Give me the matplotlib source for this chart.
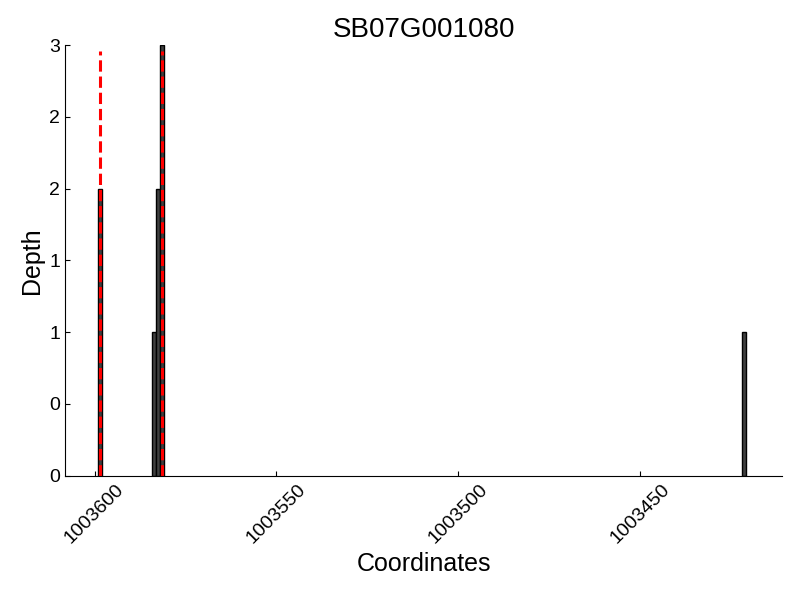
import numpy as np
import matplotlib
matplotlib.use("Agg")
import matplotlib.pyplot as plt
from matplotlib.ticker import FormatStrFormatter

plt.rcParams['font.family'] = ['Liberation Sans', 'DejaVu Sans']

gene = "SB07G001080"
# read depth per coordinate
positions = [1003598.6, 1003583.6, 1003582.5, 1003581.4, 1003421.4]
depths = [2, 1, 2, 3, 1]
# feature boundaries (red dashed)
bounds = [1003598.5, 1003581.5]
xlim = (1003608.2, 1003410.9)
xticks = [1003600, 1003550, 1003500, 1003450]

fig = plt.figure(figsize=(8, 6), dpi=100)
ax = fig.add_axes([0.081, 0.207, 0.897, 0.718])

ax.bar(positions, depths, width=1.0, color="#404040", edgecolor="black", linewidth=1)
ax.vlines(bounds, 0, 2.96, colors="red", linestyles="dashed", linewidth=2.2)

ax.set_xlim(*xlim)
ax.set_ylim(0, 3)
ax.set_xticks(xticks)
ax.set_yticks(np.arange(0, 3.01, 0.5))
ax.yaxis.set_major_formatter(FormatStrFormatter('%d'))
ax.xaxis.set_major_formatter(FormatStrFormatter('%d'))
ax.tick_params(direction="in", labelsize=14)
plt.setp(ax.get_xticklabels(), rotation=45)

for s in ["top", "right"]:
    ax.spines[s].set_visible(False)

ax.set_xlabel("Coordinates", fontsize=18)
ax.set_ylabel("Depth", fontsize=18)
ax.set_title(gene, fontsize=20)

plt.savefig("out.png", dpi=100)
